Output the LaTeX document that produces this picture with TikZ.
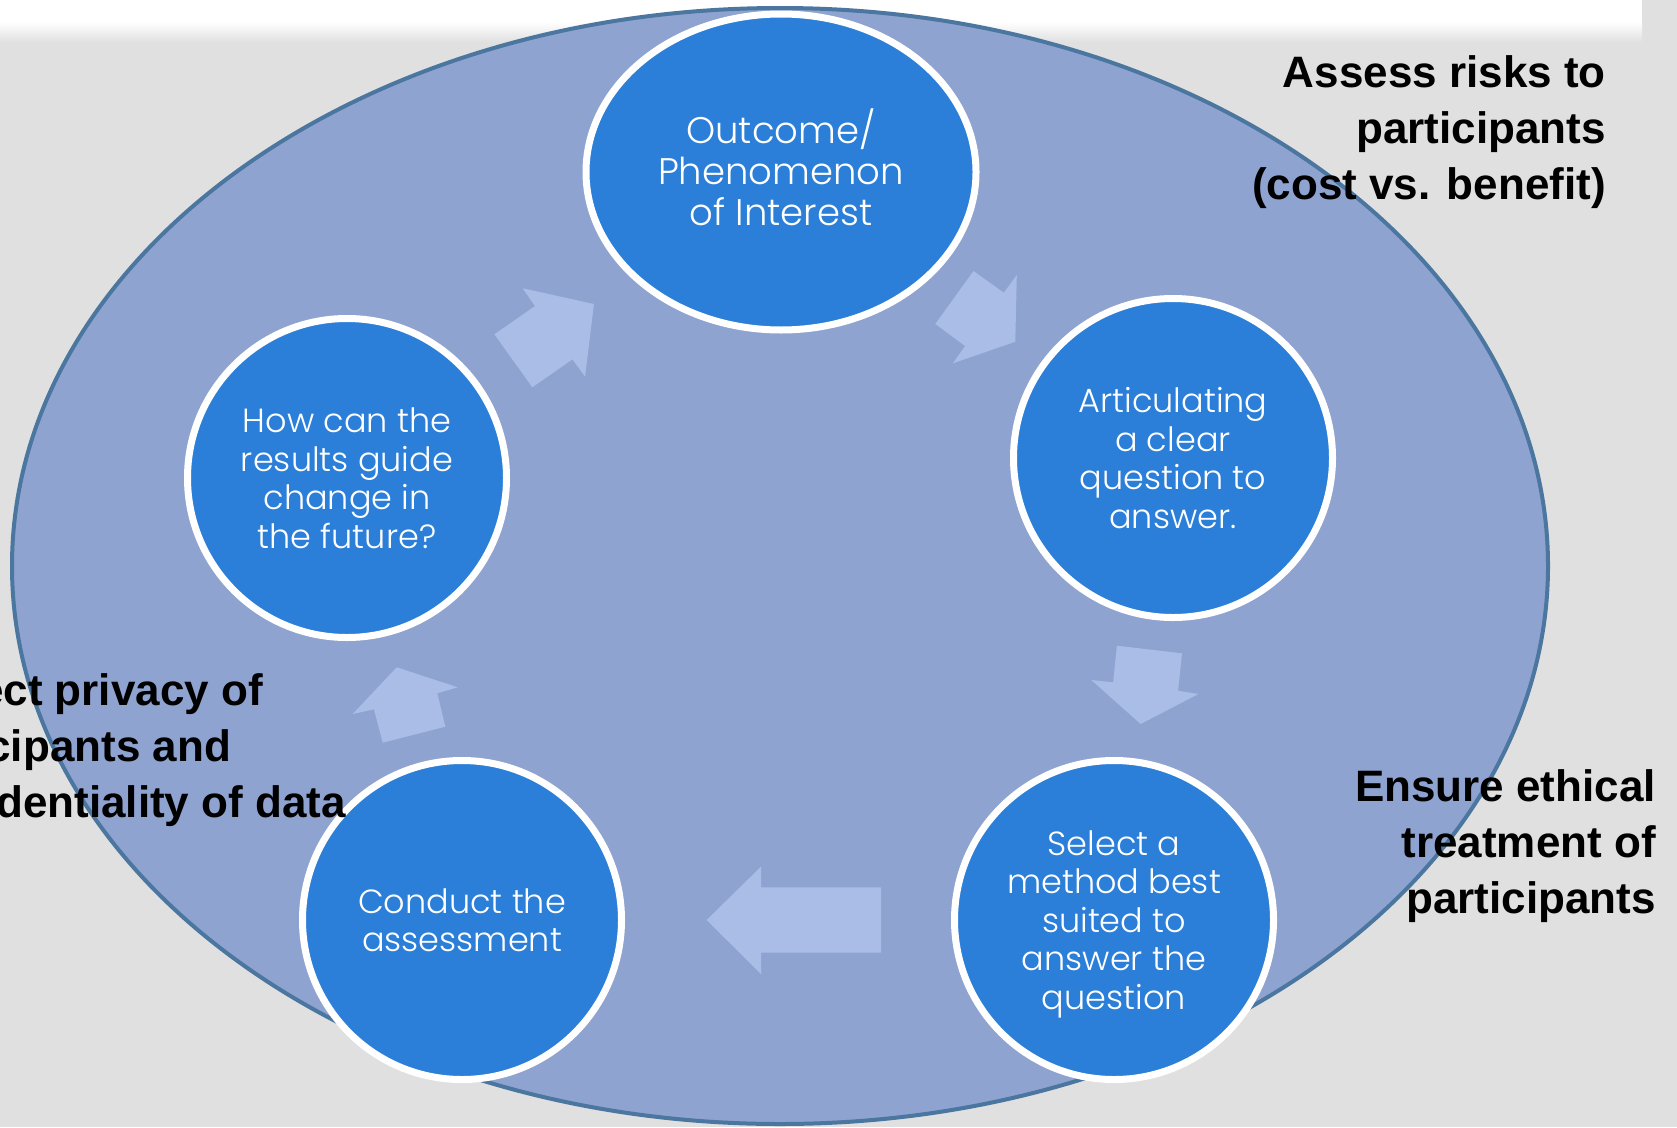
\documentclass[tikz,border=0pt]{standalone}
\usepackage{fontspec}
\newfontfamily\circfont{Poppins Light}
\newfontfamily\labfont{Liberation Sans}
\usetikzlibrary{shapes.geometric}
\definecolor{bg}{HTML}{E0E0E0}
\definecolor{ellfill}{RGB}{143,163,208}
\definecolor{ellline}{RGB}{74,118,160}
\definecolor{circfill}{RGB}{43,127,216}
\definecolor{arrowfill}{RGB}{170,189,230}
\tikzset{
  stagecirc/.style={circle, minimum size=319pt, inner sep=0pt, fill=circfill, draw=white, line width=7pt},
  stagetext/.style={inner sep=0pt, text=white, align=center, font=\circfont\fontsize{33.5}{38.5}\selectfont},
  blockarrow/.style={fill=arrowfill},
  sidelabel/.style={anchor=east, inner sep=0pt, font=\labfont\bfseries\fontsize{44}{56}\selectfont}
}
\begin{document}
\begin{tikzpicture}[x=1pt,y=-1pt]
\useasboundingbox (0,0) rectangle (1677,1127);
\clip (0,0) rectangle (1677,1127);
\fill[bg] (0,0) rectangle (1677,1127);
\fill[white] (0,0) rectangle (1642,22);
\shade[top color=white,bottom color=bg] (0,22) rectangle (1642,42);

\node[ellipse, minimum width=1536pt, minimum height=1116pt, inner sep=0pt, fill=ellfill, draw=ellline, line width=4pt] (frame) at (780,566) {};

% block arrows
\fill[blockarrow] (522.7,288.3) -- (593.9,304) -- (585.1,376.7) -- (572.5,359.3) -- (532.3,387.3) -- (494.4,334.3) -- (535,306) -- cycle;
\fill[blockarrow] (973.5,271) -- (1003.8,292.7) -- (1016.8,275) -- (1015.3,341.7) -- (952.9,363.3) -- (965.1,346) -- (935.3,324) -- cycle;
\fill[blockarrow] (1116.9,645.7) -- (1182,653.3) -- (1178.1,690.7) -- (1198.4,694) -- (1140.6,724) -- (1091.3,680) -- (1113.1,682.3) -- cycle;
\fill[blockarrow] (761,866.7) -- (761,887.3) -- (881.2,887.3) -- (881.2,952.7) -- (761,952.7) -- (761,974) -- (706.6,920) -- cycle;
\fill[blockarrow] (396.7,667.3) -- (457.7,687.3) -- (437.3,693.3) -- (445.3,726.7) -- (382.7,742.7) -- (374,709.3) -- (352.7,714) -- cycle;

\node[stagecirc, ellipse, minimum width=390pt, minimum height=316pt] (c1) at (781,172) {};
\node[stagecirc] (c2) at (1173,458) {};
\node[stagecirc] (c3) at (1114,920) {};
\node[stagecirc] (c4) at (462,920) {};
\node[stagecirc] (c5) at (347,478) {};

\node[stagetext, font=\circfont\fontsize{37}{41}\selectfont] (t1) at ([yshift=5pt]c1.center) {Outcome/\\Phenomenon\\of Interest};
\node[stagetext] (t2) at (c2.center) {Articulating\\a clear\\question to\\answer.};
\node[stagetext] (t3) at ([yshift=-4pt]c3.center) {Select a\\method best\\suited to\\answer the\\question};
\node[stagetext] (t4) at (c4.center) {Conduct the\\assessment};
\node[stagetext] (t5) at (c5.center) {How can the\\results guide\\change in\\the future?};

\node[sidelabel, align=right] (l1) at (1606,132) {Assess risks to\\participants\\(cost vs. benefit)};
\node[sidelabel, align=right] (l2) at (1656,846) {Ensure ethical\\treatment of\\participants};
\node[sidelabel, align=left] (l3) at (346,750) {Protect privacy of\\participants and\\confidentiality of data};
\end{tikzpicture}
\end{document}
